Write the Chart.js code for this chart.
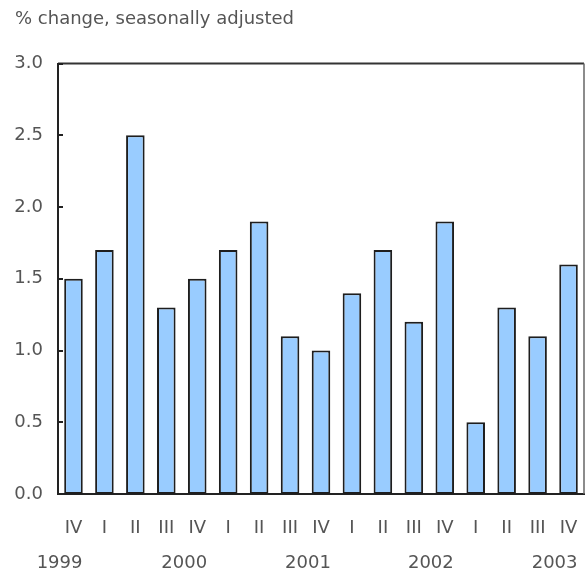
<!DOCTYPE html>
<html>
<head>
<meta charset="utf-8">
<script src="https://cdn.jsdelivr.net/npm/chart.js@4.4.1/dist/chart.umd.min.js"></script>
<style>
html,body{margin:0;padding:0;background:#fff;}
#wrap{width:586px;height:571px;position:relative;}
</style>
</head>
<body>
<div id="wrap"><canvas id="c" width="586" height="571"></canvas></div>
<script>
const quarters = ["IV","I","II","III","IV","I","II","III","IV","I","II","III","IV","I","II","III","IV"];
const values = [1.5,1.7,2.5,1.3,1.5,1.7,1.9,1.1,1.0,1.4,1.7,1.2,1.9,0.5,1.3,1.1,1.6];
const yearLabels = ["1999","2000","2001","2002","2003"];
const yearPositions = [-0.45,3.58,7.58,11.55,15.55];
const yTicks = [0,0.5,1.0,1.5,2.0,2.5,3.0];
const titleText = "% change, seasonally adjusted";

const textColor = "#555555";
const fontFamily = "'DejaVu Sans', sans-serif";

const framePlugin = {
  id: 'frame',
  afterDatasetsDraw(chart) {
    const a = chart.chartArea, ctx = chart.ctx;
    const y = chart.scales.y;
    ctx.save();
    ctx.strokeStyle = '#333';
    ctx.lineWidth = 2;
    ctx.beginPath();
    ctx.moveTo(a.left, a.top);
    ctx.lineTo(a.right, a.top);
    ctx.stroke();
    ctx.strokeStyle = '#666';
    ctx.lineWidth = 1.5;
    ctx.beginPath();
    ctx.moveTo(a.right, a.top);
    ctx.lineTo(a.right, a.bottom);
    ctx.stroke();
    // inward tick marks on the value axis
    ctx.strokeStyle = '#222';
    ctx.lineWidth = 2;
    y.ticks.forEach(t => {
      const py = Math.round(y.getPixelForValue(t.value));
      ctx.beginPath();
      ctx.moveTo(a.left, py);
      ctx.lineTo(a.left + 5, py);
      ctx.stroke();
    });
    ctx.restore();
  }
};

function noSidePadding(s, h) {
  s.height = h;
  s.paddingLeft = 0;
  s.paddingRight = 0;
}

new Chart(document.getElementById('c'), {
  type: 'bar',
  data: {
    labels: quarters,
    datasets: [{
      data: values,
      backgroundColor: '#99ccff',
      borderColor: '#1e1e1e',
      borderWidth: 2,
      borderSkipped: false,
      barPercentage: 0.6,
      categoryPercentage: 1.0
    }]
  },
  options: {
    responsive: false,
    animation: false,
    layout: { padding: { left: 15, right: 2, top: 0, bottom: 0 } },
    plugins: {
      legend: { display: false },
      tooltip: { enabled: false },
      title: {
        display: true,
        text: titleText,
        align: 'start',
        color: textColor,
        font: { family: fontFamily, size: 18, weight: 'normal' },
        padding: { top: 9, bottom: 33 }
      }
    },
    scales: {
      y: {
        min: 0, max: 3,
        afterFit(s) { s.width = 43; },
        afterBuildTicks(s) { s.ticks = yTicks.map(v => ({ value: v })); },
        ticks: {
          callback: v => Number(v).toFixed(1),
          color: textColor,
          font: { family: fontFamily, size: 18 },
          padding: 15
        },
        grid: { display: false, drawOnChartArea: false, drawTicks: false },
        border: { display: true, color: '#222', width: 2 }
      },
      x: {
        position: 'bottom',
        afterFit(s) { noSidePadding(s, 42); },
        ticks: {
          color: textColor,
          font: { family: fontFamily, size: 18 },
          autoSkip: false, maxRotation: 0, minRotation: 0,
          padding: 24
        },
        grid: { display: false, drawTicks: false },
        border: { display: true, color: '#222', width: 2 }
      },
      x2: {
        type: 'linear',
        position: 'bottom',
        min: -0.5, max: 16.5,
        offset: false,
        afterFit(s) { noSidePadding(s, 35); },
        afterBuildTicks(s) { s.ticks = yearPositions.map(v => ({ value: v })); },
        ticks: {
          callback: (v, i) => yearLabels[i],
          color: textColor,
          font: { family: fontFamily, size: 18 },
          autoSkip: false, maxRotation: 0, minRotation: 0,
          padding: 17
        },
        grid: { display: false, drawTicks: false },
        border: { display: false }
      }
    }
  },
  plugins: [framePlugin]
});
</script>
</body>
</html>
